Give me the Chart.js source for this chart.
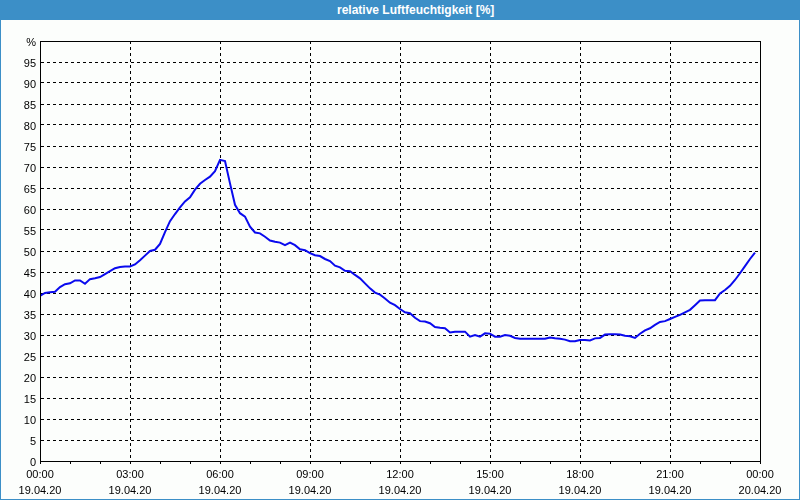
<!DOCTYPE html>
<html>
<head>
<meta charset="utf-8">
<script src="https://cdn.jsdelivr.net/npm/chart.js@4"></script>
<style>
  html, body { margin: 0; padding: 0; background: #fff; }
  #frame {
    position: relative; width: 800px; height: 500px; box-sizing: border-box;
    border: 1px solid #3c8fc7; border-top: none; background: #fcfefc;
  }
  #title {
    position: absolute; left: -1px; top: 0; width: 800px; height: 20px;
    background: #3c8fc7; color: #fff;
    font: bold 12px "Liberation Sans", Arial, sans-serif; line-height: 21px;
  }
  #title span { position: absolute; left: 337px; }
  #wrap { position: absolute; left: 0; top: 20px; width: 798px; height: 479px; }
</style>
</head>
<body>
<div id="frame">
  <div id="title"><span>relative Luftfeuchtigkeit [%]</span></div>
  <div id="wrap"><canvas id="chart"></canvas></div>
</div>
<script>
// 10-minute readings, 19.04.20 00:00 .. 23:50
const stepMinutes = 10;
const humidity = [
  39.3, 40.0, 40.2, 40.3, 41.4, 42.1, 42.3, 43.0, 43.0, 42.2, 43.3, 43.5,
  43.8, 44.5, 45.2, 45.9, 46.2, 46.3, 46.3, 46.8, 47.8, 48.9, 50.0, 50.3,
  51.7, 54.5, 57.1, 58.8, 60.4, 61.8, 62.8, 64.6, 66.0, 66.9, 67.7, 69.0,
  71.7, 71.4, 66.1, 61.0, 59.0, 58.2, 55.8, 54.4, 54.2, 53.4, 52.5, 52.2,
  52.0, 51.4, 52.0, 51.4, 50.4, 50.2, 49.5, 49.0, 48.8, 48.1, 47.6, 46.5,
  46.1, 45.3, 45.2, 44.3, 43.5, 42.3, 41.1, 40.1, 39.6, 38.7, 37.7, 37.1,
  36.2, 35.4, 35.2, 34.1, 33.3, 33.2, 32.8, 31.9, 31.7, 31.6, 30.6, 30.8,
  30.8, 30.8, 29.6, 30.0, 29.6, 30.4, 30.3, 29.6, 29.6, 30.0, 29.8, 29.3,
  29.1, 29.1, 29.1, 29.1, 29.1, 29.1, 29.4, 29.2, 29.1, 28.9, 28.5, 28.5,
  28.8, 28.8, 28.7, 29.2, 29.3, 30.1, 30.2, 30.2, 30.1, 29.8, 29.7, 29.3,
  30.3, 31.1, 31.6, 32.4, 33.1, 33.3, 33.8, 34.3, 34.8, 35.4, 36.0, 37.1,
  38.2, 38.3, 38.3, 38.3, 39.9, 40.7, 41.7, 43.1, 44.7, 46.4, 48.1, 49.6
];
const timeLabels = ['00:00', '03:00', '06:00', '09:00', '12:00', '15:00', '18:00', '21:00', '00:00'];
const dateLabels = ['19.04.20', '19.04.20', '19.04.20', '19.04.20', '19.04.20', '19.04.20', '19.04.20', '19.04.20', '20.04.20'];

const points = humidity.map((v, i) => ({x: i * stepMinutes, y: v}));
const font = {family: '"Liberation Sans", Arial, sans-serif', size: 11};

const frameBox = {
  id: 'frameBox',
  afterDraw(chart) {
    const {ctx, chartArea: a} = chart;
    ctx.save();
    ctx.strokeStyle = '#000';
    ctx.lineWidth = 1;
    ctx.strokeRect(Math.round(a.left) + 0.5, Math.round(a.top) + 0.5,
      Math.round(a.right - a.left), Math.round(a.bottom - a.top));
    ctx.restore();
  }
};

new Chart(document.getElementById('chart'), {
  type: 'line',
  data: {
    datasets: [{
      data: points,
      borderColor: '#0a0aee',
      borderWidth: 2,
      pointRadius: 0,
      tension: 0
    }]
  },
  options: {
    responsive: true,
    maintainAspectRatio: false,
    animation: false,
    events: [],
    layout: {padding: {left: 0, right: 39, top: 21, bottom: 0}},
    plugins: {legend: {display: false}, tooltip: {enabled: false}},
    scales: {
      x: {
        type: 'linear',
        min: 0, max: 1440,
        afterFit: s => { s.height = 38; },
        afterBuildTicks: s => { s.ticks = Array.from({length: 25}, (_, h) => ({value: h * 60})); },
        ticks: {
          autoSkip: false, maxRotation: 0, padding: 3, color: '#000',
          font: {family: font.family, size: 11, lineHeight: 1.45},
          callback: v => v % 180 === 0 ? [timeLabels[v / 180], dateLabels[v / 180]] : ''
        },
        grid: {
          color: c => c.tick && c.tick.value % 180 === 0 ? '#000' : 'rgba(0,0,0,0)',
          tickColor: '#000', tickLength: 3, tickBorderDash: [], lineWidth: 1
        },
        border: {color: '#000', dash: [3, 3]}
      },
      y: {
        min: 0, max: 100,
        afterFit: s => { s.width = 39; },
        ticks: {
          stepSize: 5, padding: 4, labelOffset: 2, color: '#000', font: font,
          callback: v => v === 100 ? '%' : String(v)
        },
        grid: {color: '#000', drawTicks: false, lineWidth: 1},
        border: {color: '#000', dash: [3, 3]}
      }
    }
  },
  plugins: [frameBox]
});
</script>
</body>
</html>
